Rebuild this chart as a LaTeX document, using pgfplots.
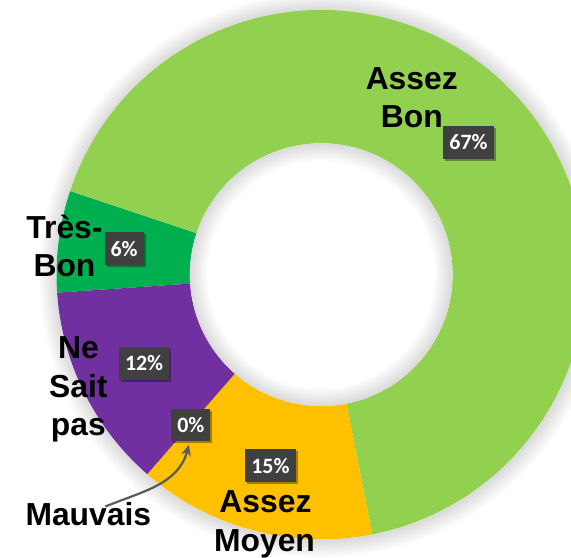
\documentclass[border=0pt]{standalone}
\usepackage{pgfplots}
\pgfplotsset{compat=1.18}
\usepackage{pgfplotstable}
\usepackage{fontspec}
\setmainfont{Liberation Sans}
\newfontfamily\carlito{Carlito}
\usetikzlibrary{arrows.meta,shadows}

\definecolor{c0}{HTML}{00B050}
\definecolor{c1}{HTML}{92D050}
\definecolor{c2}{HTML}{FFC000}
\definecolor{c3}{HTML}{C00000}
\definecolor{c4}{HTML}{7030A0}
\definecolor{boxgray}{HTML}{404040}
\definecolor{arrowgray}{HTML}{595959}

% clockwise order, starting at 183.9 degrees
\pgfplotstableread{
label value
TresBon 6.2
AssezBon 66.8
AssezMoyen 14.5
Mauvais 0
NeSaitPas 12.5
}\donutdata

\begin{document}
\xdef\cumang{183.9}
\foreach \i in {0,...,4}{%
  \pgfplotstablegetelem{\i}{value}\of\donutdata
  \pgfmathsetmacro\myend{\cumang-3.6*\pgfplotsretval}%
  \expandafter\xdef\csname sa\i\endcsname{\cumang}%
  \expandafter\xdef\csname ea\i\endcsname{\myend}%
  \xdef\cumang{\myend}%
}%
\begin{tikzpicture}
\begin{axis}[
  x=1pt, y=1pt,
  xmin=0, xmax=571, ymin=0, ymax=560,
  hide axis, clip=true,
]
\begin{scope}[shift={(axis cs:320,284)}]
  % soft outer glow
  \pgfplotsinvokeforeach{1,...,12}{
    \fill[black, opacity=0.013] (0.4,-0.6) circle[radius={266+1.5*#1}];
  }
  \fill[white] (0,0) circle[radius=266];
  \pgfplotsinvokeforeach{0,1,2,4}{
    \fill[c#1] (\csname sa#1\endcsname:266pt)
      arc[start angle=\csname sa#1\endcsname, end angle=\csname ea#1\endcsname, radius=266pt]
      -- (\csname ea#1\endcsname:132pt)
      arc[start angle=\csname ea#1\endcsname, end angle=\csname sa#1\endcsname, radius=132pt]
      -- cycle;
  }
  \fill[white] (0,0) circle[radius=132];
  % inner shadow of the hole
  \pgfplotsinvokeforeach{1,...,12}{
    \fill[black, opacity=0.012, even odd rule] (0,0) circle[radius=132] circle[radius={132-1.5*#1}];
  }
\end{scope}

% category labels
\tikzset{lab/.style={anchor=base, font=\bfseries\fontsize{32}{38}\selectfont, inner sep=0pt}}
\node[lab] at (axis cs:411,470) {Assez};
\node[lab] at (axis cs:411,432) {Bon};
\node[lab] at (axis cs:62,320) {Très-};
\node[lab] at (axis cs:62,282) {Bon};
\node[lab] at (axis cs:76,200) {Ne};
\node[lab] at (axis cs:76,161) {Sait};
\node[lab] at (axis cs:76,122) {pas};
\node[lab] at (axis cs:86,32) {Mauvais};
\node[lab] at (axis cs:264,45) {Assez};
\node[lab] at (axis cs:263,6) {Moyen};

% arrow from Mauvais to its label
\draw[-{Stealth[length=11pt,width=10pt]}, arrowgray, line width=2.2pt]
  (axis cs:103,51) to[out=22, in=-105] (axis cs:187,113);

% percentage boxes
\tikzset{pct/.style={fill=boxgray, text=white, font=\carlito\bfseries\fontsize{22}{26}\selectfont,
  inner xsep=6pt, minimum height=33pt, inner ysep=0pt,
  drop shadow={shadow xshift=2pt, shadow yshift=-2pt, opacity=0.35, fill=black}}}
\node[pct] at (axis cs:468,417) {67\%};
\node[pct] at (axis cs:122,310) {6\%};
\node[pct] at (axis cs:142,195) {12\%};
\node[pct] at (axis cs:189,133) {0\%};
\node[pct] at (axis cs:269,92) {15\%};
\end{axis}
\pgfresetboundingbox
\path (current axis.south west) rectangle (current axis.north east);
\end{tikzpicture}
\end{document}
